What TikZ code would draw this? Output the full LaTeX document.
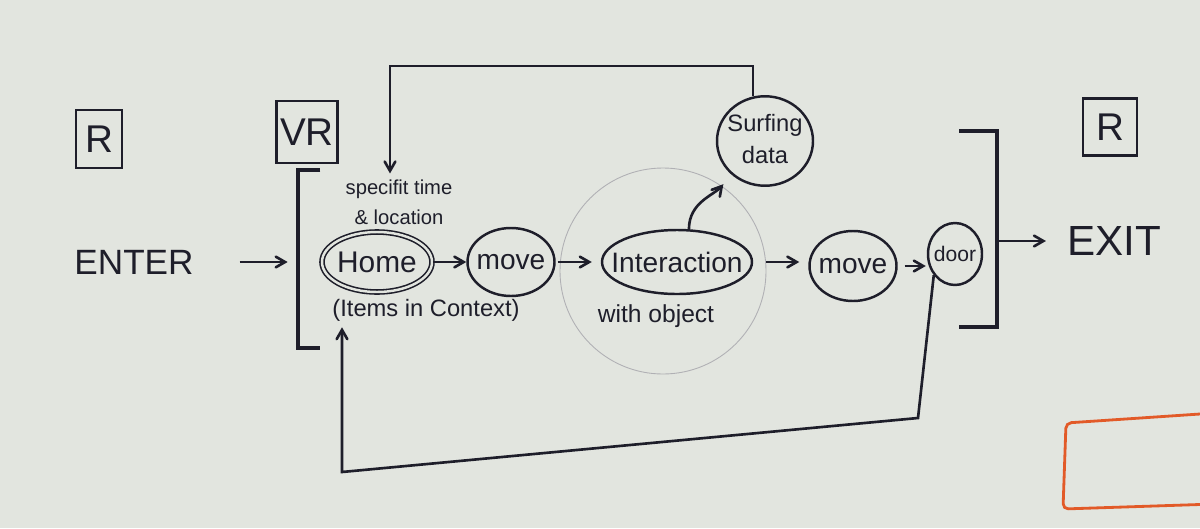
\documentclass[tikz,border=0pt]{standalone}
\usepackage{fontspec}
\setmainfont{Liberation Sans}
\usetikzlibrary{shapes.geometric,arrows}

\definecolor{board}{RGB}{226,229,223}
\definecolor{ink}{RGB}{30,30,42}
\definecolor{marker}{RGB}{226,90,40}

\begin{document}
\begin{tikzpicture}[x=0.02cm, y=-0.02cm, >=angle 60,
  every node/.style={text=ink},
  tag/.style={draw=ink, line width=1.6pt, inner sep=0pt, font=\fontsize{22}{24}\selectfont},
  state/.style={ellipse, draw=ink, line width=1.4pt, inner sep=0pt, font=\fontsize{16}{18}\selectfont},
  state home/.style={double=board, double distance=1.4pt, line width=0.9pt, font=\fontsize{17}{19}\selectfont},
  state door/.style={font=\fontsize{12}{14}\selectfont},
  zone/.style={circle, draw=ink!35, line width=0.5pt, inner sep=0pt},
  note/.style={align=center, font=\fontsize{14}{16}\selectfont},
  flow/.style={->, draw=ink, line width=1.5pt},
  bracket/.style={draw=ink, line width=2.2pt}]

\useasboundingbox (0,0) rectangle (1200,528);
\clip (0,0) rectangle (1200,528);
\fill [board] (0,0) rectangle (1200,528);

\foreach \n/\t/\x/\y/\w/\h in {r-in/R/99/139/46/58, vr/VR/307/132/61/62, r-out/R/1110/127/54/57}
  \node [tag, minimum width=\w*0.02cm, minimum height=\h*0.02cm] (\n) at (\x,\y) {\t};

\node [font=\fontsize{20}{24}\selectfont] (enter) at (134,262) {ENTER};
\node [font=\fontsize{24}{28}\selectfont] (exit) at (1114,241) {EXIT};

\node [zone, minimum size=206*0.02cm] (inter-zone) at (663,271) {};

\foreach \n/\t/\x/\y/\w/\h in {home/Home/377/262/110/60, move-1/move/511/262/87/68,
    inter/Interaction/677/262/150/64, move-2/move/853/266/87/70, door/door/955/254/54/62}
  \node [state, state \n/.try, minimum width=\w*0.02cm, minimum height=\h*0.02cm] (\n) at (\x,\y) {\makebox[0pt]{\t}};

\node [state, minimum width=96*0.02cm, minimum height=84*0.02cm, font=\fontsize{13.5}{18}\selectfont] (surf) at (765,141)
  {\makebox[0pt]{\begin{tabular}{@{}c@{}}Surfing\\data\end{tabular}}};

\node [note, font=\fontsize{11.5}{17}\selectfont] (spec) at (399,202) {specifit time\\\& location};
\node [note, font=\fontsize{13.5}{16}\selectfont] (items) at (426,310) {(Items in Context)};
\node [note] (object) at (656,316) {with object};

% VR brackets
\node [minimum width=22*0.02cm, minimum height=178*0.02cm, inner sep=0pt] (vr-open) at (309,259) {};
\node [minimum width=37*0.02cm, minimum height=195*0.02cm, inner sep=0pt] (vr-close) at (978,229) {};
\draw [bracket] (vr-open.north east) -- (vr-open.north west) -- (vr-open.south west) -- (vr-open.south east);
\draw [bracket] (vr-close.north west) -- (vr-close.north east) -- (vr-close.south east) -- (vr-close.south west);

\draw [flow, shorten <=0.8cm, shorten >=0.2cm] (enter.east) -- (vr-open.west |- enter.east);
\draw [flow, shorten >=0.3cm] (vr-close.east |- exit) -- (exit.west);

\foreach \a/\b/\s/\e in {home/move-1/0/0, move-1/inter/2/9, inter/move-2/13/9, move-2/door/7/1}
  \draw [flow, shorten <=\s*0.02cm, shorten >=\e*0.02cm] (\a.east) -- (\a.east -| \b.west);

\draw [flow, shorten >=0.25cm] (inter.70) to [out=90, in=230] (surf.225);

% loops back to home
\coordinate (loop-top) at (390,66);
\coordinate (loop-br) at (918,418);
\coordinate (loop-bl) at (342,472);
\draw [flow] (surf.105) |- (loop-top) -- (loop-top |- spec.north);
\draw [flow] (door.225) -- (loop-br) -- (loop-bl) -- (loop-bl |- items.south);

\draw [marker, line width=1.6pt, rounded corners=3pt] (1215,413) -- (1066,423) -- (1063,509) -- (1215,504);

\end{tikzpicture}
\end{document}
